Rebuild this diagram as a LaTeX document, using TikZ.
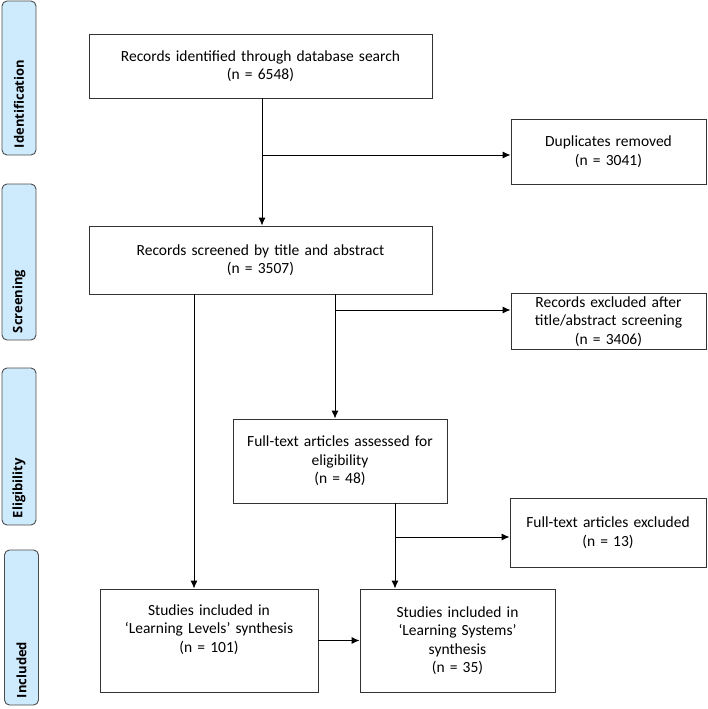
\documentclass[tikz,border=0pt]{standalone}
\usepackage{fontspec}
\setmainfont{Carlito}
\newfontfamily\phasefont{Open Sans}
\usetikzlibrary{arrows.meta}
\definecolor{phaseblue}{RGB}{206,234,253}
\tikzset{bx/.append style={draw=black!80, line width=0.9pt, align=center, inner sep=2pt, font=\fontsize{15.5}{18.5}\selectfont}}
\tikzset{ph/.append style={draw=black!70, fill=phaseblue, rounded corners=5pt, line width=0.9pt, rotate=90, minimum height=34pt, inner xsep=7pt, align=left, font=\phasefont\bfseries\fontsize{13}{15}\selectfont}}
\tikzset{arr/.append style={-{Latex[length=8pt,width=7pt]}, line width=0.9pt}}

\begin{document}
\begin{tikzpicture}[x=1pt,y=-1pt]
                \useasboundingbox (0,0) rectangle (708,709);
                % phases
                \node[ph,text width=140pt] (idf) at (19,78) {Identification};
                \node[ph,text width=142pt] (scn) at (19,262) {Screening};
                \node[ph,text width=143pt] (elg) at (19,446.5) {Eligibility};
                \node[ph,text width=141pt] (inc) at (21.5,627.5) {Included};
                % boxes
                \node[bx,text width=339pt,minimum height=64pt] (rec) at (260.5,66) {Records identified through database search\\(n = 6548)};
                \node[bx,text width=191pt,minimum height=65pt] (dup) at (608.5,151.5) {Duplicates removed\\(n = 3041)};
                \node[bx,text width=339pt,minimum height=68pt] (scr) at (260.5,260) {Records screened by title and abstract\\(n = 3507)};
                \node[bx,text width=191pt,minimum height=56pt] (exc) at (608.5,321.5) {Records excluded after\\title/abstract screening\\(n = 3406)};
                \node[bx,text width=210pt,minimum height=84pt] (ful) at (340,461) {Full-text articles assessed for\\eligibility\\(n = 48)};
                \node[bx,text width=192pt,minimum height=69pt] (fex) at (608,532.5) {Full-text articles excluded\\(n = 13)\\[6pt]};
                \node[bx,text width=214pt,minimum height=103pt] (lvl) at (209,640.5) {Studies included in\\`Learning Levels' synthesis\\(n = 101)\\\strut};
                \node[bx,text width=191pt,minimum height=103pt] (sys) at (457.5,640.5) {Studies included in\\`Learning Systems'\\synthesis\\(n = 35)};
                % junctions
                \coordinate (j1) at (262,155);
                \coordinate (j2) at (335,310);
                \coordinate (j3) at (395,537);
                \coordinate (b1) at (194,294);
                \draw[line width=0.9pt] (rec.south -| j1) -- (j1);
                \draw[arr] (j1) -- (j1 -| dup.west);
                \draw[arr] (j1) -- (j1 |- scr.north);
                \draw[arr] (scr.south -| b1) -- (b1 |- lvl.north);
                \draw[line width=0.9pt] (scr.south -| j2) -- (j2);
                \draw[arr] (j2) -- (j2 -| exc.west);
                \draw[arr] (j2) -- (j2 |- ful.north);
                \draw[line width=0.9pt] (ful.south -| j3) -- (j3);
                \draw[arr] (j3) -- (j3 -| fex.west);
                \draw[arr] (j3) -- (j3 |- sys.north);
                \draw[arr] (lvl) -- (sys);
            \end{tikzpicture}
\end{document}
